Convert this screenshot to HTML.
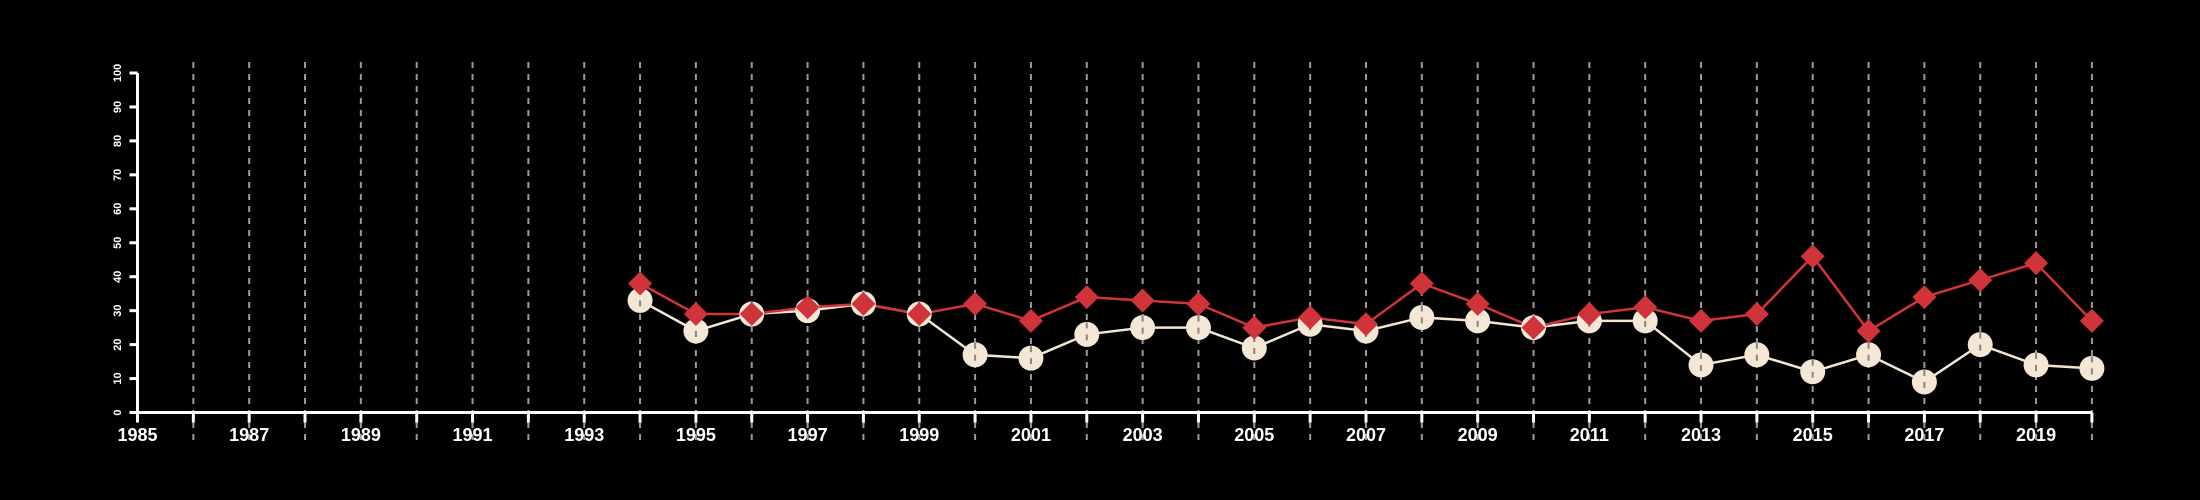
<!DOCTYPE html>
<html><head><meta charset="utf-8"><style>
html,body{margin:0;padding:0;background:#000;}
svg{display:block;}
text{font-family:"Liberation Sans",sans-serif;font-weight:bold;fill:#fff;}
</style></head><body>
<svg id="chart" width="2200" height="500" xmlns="http://www.w3.org/2000/svg">
<rect width="2200" height="500" fill="#000"/>
<g id="grid"></g><g id="axes"></g><g id="series"></g>
</svg>
<script>
const years=[1994,1995,1996,1997,1998,1999,2000,2001,2002,2003,2004,2005,2006,2007,2008,2009,2010,2011,2012,2013,2014,2015,2016,2017,2018,2019,2020];
const redValues=[38,29,29,31,32,29,32,27,34,33,32,25,28,26,38,32,25,29,31,27,29,46,24,34,39,44,27];
const creamValues=[33,24,29,30,32,29,17,16,23,25,25,19,26,24,28,27,25,27,27,14,17,12,17,9,20,14,13];
const yTicks=[0,10,20,30,40,50,60,70,80,90,100];
const xMin=1985,xMax=2020;
const NS="http://www.w3.org/2000/svg";
function xs(v){return 137.5+(v-xMin)*55.84;}
function ys(v){return 412.5-v*3.395;}
function mk(tag,attrs,parent){const e=document.createElementNS(NS,tag);for(const k in attrs)e.setAttribute(k,attrs[k]);parent.appendChild(e);return e;}
const grid=document.getElementById('grid'),axes=document.getElementById('axes'),series=document.getElementById('series');
for(let yr=xMin+1;yr<=xMax;yr++){
  const l=mk('line',{x1:xs(yr),x2:xs(yr),y1:62,y2:440,stroke:'#9a9a9a','stroke-width':2,'stroke-dasharray':'6,6'},grid);
  
  
}
const xa=mk('line',{x1:xs(xMin),x2:xs(xMax),y1:ys(0),y2:ys(0),stroke:'#fff','stroke-width':3},axes);


const ya=mk('line',{x1:xs(xMin),x2:xs(xMin),y1:ys(0),y2:ys(100),stroke:'#fff','stroke-width':3},axes);


for(let yr=xMin;yr<=xMax;yr++){
  mk('line',{x1:xs(yr),x2:xs(yr),y1:ys(0),y2:ys(0)+10,stroke:'#fff','stroke-width':3},axes);
  if((yr-xMin)%2===0){
    const t=mk('text',{x:xs(yr),y:441,'text-anchor':'middle','font-size':18},axes);
    t.textContent=yr;
    
    
  }
}
yTicks.forEach(v=>{
  mk('line',{x1:xs(xMin)-8,x2:xs(xMin),y1:ys(v),y2:ys(v),stroke:'#fff','stroke-width':3},axes);
  const t=mk('text',{x:0,y:0,'text-anchor':'middle','font-size':11,transform:'translate(121,'+ys(v)+') rotate(-90)'},axes);
  t.textContent=v;
  
  
});
function drawLine(vals,color,name){
  const p=mk('polyline',{points:vals.map((v,i)=>xs(years[i])+','+ys(v)).join(' '),fill:'none',stroke:color,'stroke-width':2.5},series);
  
  
}
drawLine(creamValues,'#f3e6d4','cream-series');
drawLine(redValues,'#d0343a','red-series');
creamValues.forEach((v,i)=>{
  const c=mk('circle',{cx:xs(years[i]),cy:ys(v),r:12.5,fill:'#f5e7d5'},series);
  
  
  mk('line',{x1:xs(years[i]),x2:xs(years[i]),y1:ys(v)-12,y2:ys(v)+12,stroke:'#8a8580','stroke-width':2,'stroke-dasharray':'6,6'},series);
});
redValues.forEach((v,i)=>{
  const x=xs(years[i]),y=ys(v),s=12;
  const d=mk('polygon',{points:`${x},${y-s} ${x+s},${y} ${x},${y+s} ${x-s},${y}`,fill:'#d0343a'},series);
  
  
});
</script>
</body></html>
